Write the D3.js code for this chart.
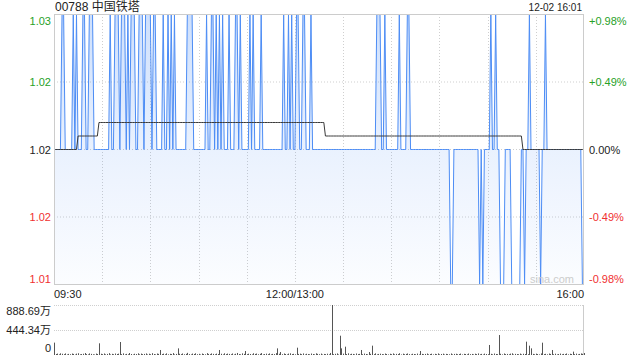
<!DOCTYPE html>
<html><head><meta charset="utf-8">
<script src="https://cdn.jsdelivr.net/npm/d3@7"></script>
<style>html,body{margin:0;padding:0;background:#fff;overflow:hidden}
text{font-family:"Liberation Sans",Arial,"Noto Sans CJK SC",sans-serif}</style>
</head><body><svg id="c" width="640" height="360"></svg>
<script>
const title = "00788 中国铁塔";
const stamp = "12-02 16:01";
const priceTickValues = [1.03, 1.025, 1.02, 1.015, 1.01];
const priceTickLabels = ["1.03", "1.02", "1.02", "1.02", "1.01"];
const pctTickLabels = ["+0.98%", "+0.49%", "0.00%", "-0.49%", "-0.98%"];
const timeLabels = ["09:30", "12:00/13:00", "16:00"];
const timeLabelMinutes = [0, 150, 330];
const volTickValues = [888.69, 444.34, 0];
const volTickLabels = ["888.69万", "444.34万", "0"];

// minute-by-minute last price, 09:30 .. 16:00 (331 points)
const prices = [
1.02,1.02,1.02,1.02,1.02,1.03,1.03,1.02,1.02,1.02,
1.02,1.02,1.03,1.02,1.03,1.02,1.02,1.02,1.03,1.03,
1.02,1.02,1.03,1.03,1.03,1.02,1.02,1.02,1.02,1.02,
1.02,1.02,1.02,1.02,1.02,1.03,1.02,1.02,1.03,1.03,
1.03,1.02,1.03,1.03,1.03,1.02,1.03,1.02,1.03,1.03,
1.03,1.02,1.02,1.03,1.03,1.03,1.02,1.03,1.03,1.03,
1.03,1.02,1.03,1.03,1.02,1.02,1.02,1.02,1.03,1.02,
1.02,1.03,1.02,1.03,1.02,1.03,1.02,1.02,1.02,1.02,
1.02,1.02,1.02,1.03,1.03,1.03,1.03,1.02,1.02,1.02,
1.02,1.02,1.02,1.02,1.02,1.03,1.02,1.02,1.03,1.03,
1.02,1.03,1.02,1.03,1.02,1.03,1.02,1.02,1.02,1.03,
1.02,1.02,1.02,1.03,1.03,1.02,1.03,1.02,1.02,1.02,
1.02,1.02,1.03,1.02,1.03,1.02,1.02,1.02,1.02,1.03,
1.02,1.02,1.02,1.02,1.02,1.02,1.02,1.02,1.02,1.02,
1.02,1.02,1.02,1.03,1.02,1.02,1.03,1.02,1.03,1.02,
1.02,1.03,1.03,1.02,1.02,1.03,1.03,1.02,1.02,1.02,
1.03,1.02,1.02,1.02,1.02,1.02,1.02,1.02,1.02,1.02,
1.02,1.02,1.02,1.02,1.02,1.02,1.02,1.02,1.02,1.02,
1.02,1.02,1.02,1.02,1.02,1.02,1.02,1.02,1.02,1.02,
1.02,1.02,1.02,1.02,1.02,1.02,1.02,1.02,1.02,1.02,
1.02,1.03,1.03,1.03,1.02,1.02,1.03,1.02,1.02,1.02,
1.02,1.02,1.02,1.02,1.02,1.03,1.02,1.02,1.02,1.02,
1.03,1.03,1.02,1.02,1.02,1.02,1.02,1.02,1.02,1.02,
1.02,1.02,1.02,1.02,1.02,1.02,1.02,1.02,1.02,1.02,
1.02,1.02,1.02,1.02,1.02,1.02,1.02,1.01,1.01,1.02,
1.02,1.02,1.02,1.02,1.02,1.02,1.02,1.02,1.02,1.02,
1.02,1.02,1.02,1.02,1.02,1.01,1.02,1.01,1.02,1.02,
1.02,1.02,1.03,1.02,1.02,1.03,1.02,1.02,1.01,1.01,
1.01,1.02,1.02,1.02,1.02,1.01,1.01,1.01,1.01,1.01,
1.01,1.02,1.02,1.01,1.02,1.02,1.03,1.02,1.02,1.02,
1.02,1.02,1.02,1.01,1.02,1.02,1.03,1.02,1.02,1.02,
1.02,1.02,1.02,1.02,1.02,1.02,1.02,1.02,1.02,1.02,
1.02,1.02,1.02,1.02,1.02,1.02,1.02,1.02,1.02,1.01,
1.01
];

// average price: minute at which each level starts, and the level
const avgStartMinutes = [0, 15, 28, 169, 292];
const avgLevels = [1.020, 1.021, 1.022, 1.021, 1.020];

// volume per minute, in 万
const volumes = [
220,18,25,12,30,22,15,28,10,20,
14,26,19,8,24,31,12,17,22,35,
16,11,28,20,13,9,25,18,208,22,
15,27,12,19,33,10,21,14,26,18,
24,231,16,29,11,20,13,35,18,9,
22,17,30,12,25,15,19,28,10,23,
14,32,18,11,26,20,89,16,24,13,
29,12,21,17,34,10,19,118,22,15,
27,13,20,38,16,11,25,18,30,14,
21,9,26,17,12,33,19,15,28,20,
13,24,18,89,22,11,30,16,25,19,
14,27,10,22,36,17,12,29,20,71,
15,23,18,11,31,19,26,13,21,34,
10,17,24,15,28,12,20,16,33,118,
22,53,14,27,18,11,25,30,16,21,
12,130,19,24,15,28,10,22,17,13,
26,18,11,30,20,14,25,9,19,16,
23,12,36,888.69,15,21,28,10,343,118,
24,148,17,30,13,22,19,11,27,16,
20,89,14,25,18,12,53,21,166,15,
29,11,19,23,16,13,26,18,10,22,
15,28,12,20,17,31,9,24,14,19,
27,16,11,22,18,13,25,10,71,20,
14,19,26,12,17,23,10,21,15,28,
12,18,24,9,20,16,13,27,11,19,
22,14,17,25,10,21,18,12,26,15,
19,11,23,16,28,13,20,9,24,17,
14,178,21,12,26,18,15,355,22,11,
27,16,19,13,24,30,10,20,17,14,
25,12,22,18,237,15,166,118,20,13,
24,17,11,28,219,16,21,12,26,19,
89,14,23,10,18,25,13,20,16,27,
11,22,17,60,15,24,12,19,28,21,
35
];

const svg = d3.select("#c");
const L = 54, R = 584, T = 14, B = 284;
const VT = 305, VB = 355;
const green = "#27a127", red = "#f03030", grid = "#cfcfcf";

const x = d3.scaleLinear().domain([0, 330]).range([L, R]);
const y = d3.scaleLinear().domain([1.01, 1.03]).range([B + 0.5, T + 0.5]);
const yv = d3.scaleLinear().domain([0, 888.69]).range([VB, VT]);

const defs = svg.append("defs");
const grad = defs.append("linearGradient").attr("id", "fillg")
  .attr("gradientUnits", "userSpaceOnUse").attr("x1", 0).attr("x2", 0).attr("y1", T).attr("y2", B);
grad.append("stop").attr("offset", 0).attr("stop-color", "#4d8df5").attr("stop-opacity", 0.28);
grad.append("stop").attr("offset", 0.5).attr("stop-color", "#4d8df5").attr("stop-opacity", 0.12);
grad.append("stop").attr("offset", 1).attr("stop-color", "#4d8df5").attr("stop-opacity", 0.02);

// vertical grid (every 30 min)
const gridMinutes = d3.range(30, 330, 30);
svg.append("g").selectAll("line").data(gridMinutes).join("line")
  .attr("x1", d => Math.round(x(d)) + 0.5).attr("x2", d => Math.round(x(d)) + 0.5)
  .attr("y1", T).attr("y2", B)
  .attr("stroke", grid).attr("stroke-dasharray", "1,2");
// horizontal grid
svg.append("g").selectAll("line").data(priceTickValues.slice(1, 4)).join("line")
  .attr("x1", L).attr("x2", R).attr("y1", d => y(d)).attr("y2", d => y(d))
  .attr("stroke", grid).attr("stroke-dasharray", "1,2");

// area + line
const pts = prices.map((p, i) => [i, p]);
svg.append("path").datum(pts)
  .attr("d", d3.area().x(d => x(d[0])).y0(B).y1(d => y(d[1])))
  .attr("fill", "url(#fillg)");
svg.append("path").datum(pts)
  .attr("d", d3.line().x(d => x(d[0])).y(d => y(d[1])))
  .attr("fill", "none").attr("stroke", "#4d8df5").attr("stroke-width", 1);

// average line
const avg = prices.map((p, i) => {
  let k = 0;
  for (let j = 0; j < avgStartMinutes.length; j++) if (i >= avgStartMinutes[j]) k = j;
  return [i, avgLevels[k]];
});
svg.append("path").datum(avg)
  .attr("d", d3.line().x(d => x(d[0])).y(d => y(d[1])))
  .attr("fill", "none").attr("stroke", "#3a3a3a").attr("stroke-width", 1);

// frame
svg.append("rect").attr("x", L + 0.5).attr("y", T + 0.5).attr("width", R - L - 1).attr("height", B - T)
  .attr("fill", "none").attr("stroke", "#cccccc");

// y labels
const off = [6, 0, 0, 0, -6];
const col = [green, green, "#222", red, red];
svg.append("g").selectAll("text").data(priceTickValues).join("text")
  .attr("x", 51).attr("y", (d, i) => y(d) + off[i]).attr("text-anchor", "end")
  .attr("dominant-baseline", "central").attr("font-size", 11)
  .attr("fill", (d, i) => col[i]).text((d, i) => priceTickLabels[i]);
svg.append("g").selectAll("text").data(priceTickValues).join("text")
  .attr("x", 589).attr("y", (d, i) => y(d) + off[i]).attr("text-anchor", "start")
  .attr("dominant-baseline", "central").attr("font-size", 11)
  .attr("fill", (d, i) => col[i]).text((d, i) => pctTickLabels[i]);

// time labels
const anchors = ["start", "middle", "end"];
svg.append("g").selectAll("text").data(timeLabelMinutes).join("text")
  .attr("x", d => x(d)).attr("y", 294).attr("text-anchor", (d, i) => anchors[i])
  .attr("dominant-baseline", "central").attr("font-size", 11).attr("fill", "#222")
  .text((d, i) => timeLabels[i]);

// title & stamp
svg.append("text").attr("x", 55).attr("y", 7).attr("dominant-baseline", "central")
  .attr("font-size", 12).attr("fill", "#222").text(title);
svg.append("text").attr("x", 582).attr("y", 7).attr("dominant-baseline", "central")
  .attr("text-anchor", "end").attr("font-size", 10).attr("fill", "#222").text(stamp);

// watermark
svg.append("text").attr("x", 574).attr("y", 279).attr("dominant-baseline", "central")
  .attr("text-anchor", "end").attr("font-size", 11).attr("fill", "#cccccc").text("sina.com");

// volume panel
svg.append("g").selectAll("line").data(volTickValues.slice(0, 2)).join("line")
  .attr("x1", L).attr("x2", R).attr("y1", d => Math.round(yv(d)) + 0.5).attr("y2", d => Math.round(yv(d)) + 0.5)
  .attr("stroke", grid).attr("stroke-dasharray", "1,1");
svg.append("line").attr("x1", R - 0.5).attr("x2", R - 0.5).attr("y1", VT).attr("y2", VB)
  .attr("stroke", "#cccccc");
svg.append("g").selectAll("rect").data(volumes).join("rect")
  .attr("x", (d, i) => Math.round(x(i)))
  .attr("width", 1)
  .attr("y", d => yv(d)).attr("height", d => VB - yv(d))
  .attr("fill", "#555");
const voff = [6, 0, -7];
svg.append("g").selectAll("text").data(volTickValues).join("text")
  .attr("x", 51).attr("y", (d, i) => yv(d) + voff[i]).attr("text-anchor", "end")
  .attr("dominant-baseline", "central").attr("font-size", 11).attr("fill", "#222")
  .text((d, i) => volTickLabels[i]);
</script></body></html>
